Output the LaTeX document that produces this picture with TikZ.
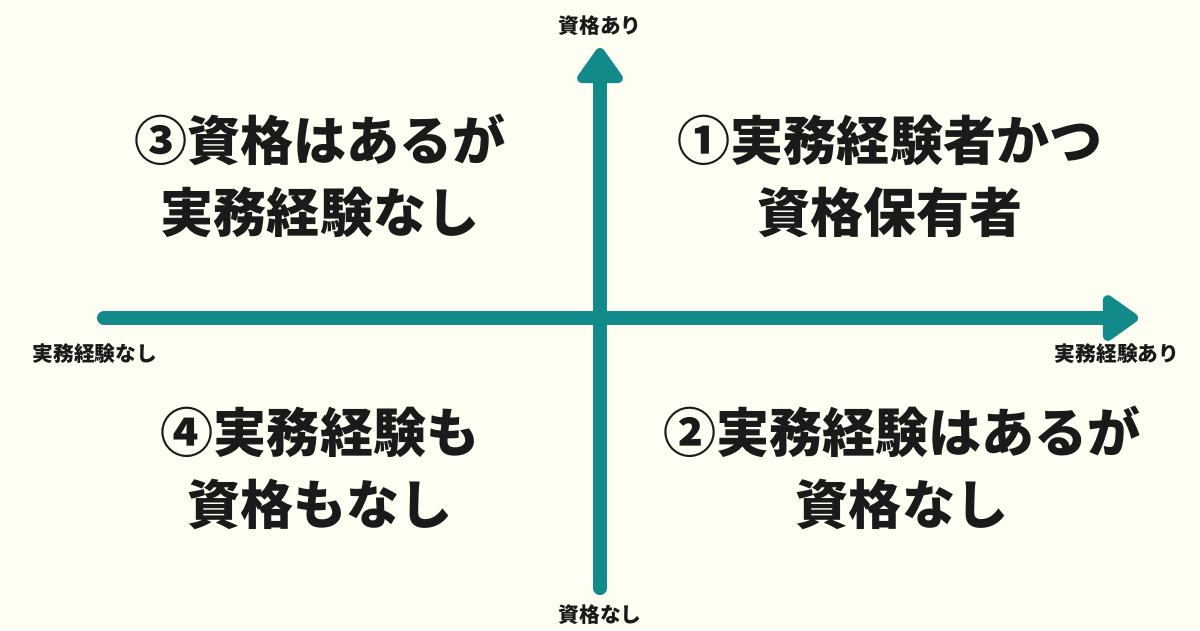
\documentclass[tikz,border=0pt]{standalone}
\usepackage{fontspec}
\newfontfamily\cjk{Noto Sans CJK JP}
\usetikzlibrary{arrows.meta}
\definecolor{paper}{HTML}{FEFEF2}
\definecolor{teal}{HTML}{138A8A}
\definecolor{ink}{HTML}{1A1A1A}
\tikzset{
  axis/.style={teal, line width=0.28cm, line cap=round,
    -{Triangle[length=0.78cm, width=1.04cm, round]}},
  quad/.style={font=\cjk\bfseries\fontsize{30.2}{41}\selectfont, align=center, text=ink},
  axislabel/.style={font=\cjk\bfseries\fontsize{11.8}{13}\selectfont, text=ink}
}
\begin{document}
\begin{tikzpicture}[x=0.02cm, y=-0.02cm]
  \fill[paper] (0,0) rectangle (1200,630);
  \useasboundingbox (0,0) rectangle (1200,630);
  % axes
  \coordinate (xl) at (104,318); \coordinate (xr) at (1138,318);
  \coordinate (yb) at (600,588); \coordinate (yt) at (600,48);
  \draw[axis] (xl) -- (xr);
  \draw[axis] (yb) -- (yt);
  % axis labels
  \node[axislabel] (qualyes) at (600,26) {資格あり};
  \node[axislabel] (qualno) at (600,615) {資格なし};
  \node[axislabel] (expno) at (95,354) {実務経験なし};
  \node[axislabel] (expyes) at (1117,354) {実務経験あり};
  % quadrants
  \node[quad] (q1) at (890,176) {①実務経験者かつ\\資格保有者};
  \node[quad] (q2) at (902,468) {②実務経験はあるが\\資格なし};
  \node[quad] (q3) at (320,176) {③資格はあるが\\実務経験なし};
  \node[quad] (q4) at (320,468) {④実務経験も\\資格もなし};
\end{tikzpicture}
\end{document}
